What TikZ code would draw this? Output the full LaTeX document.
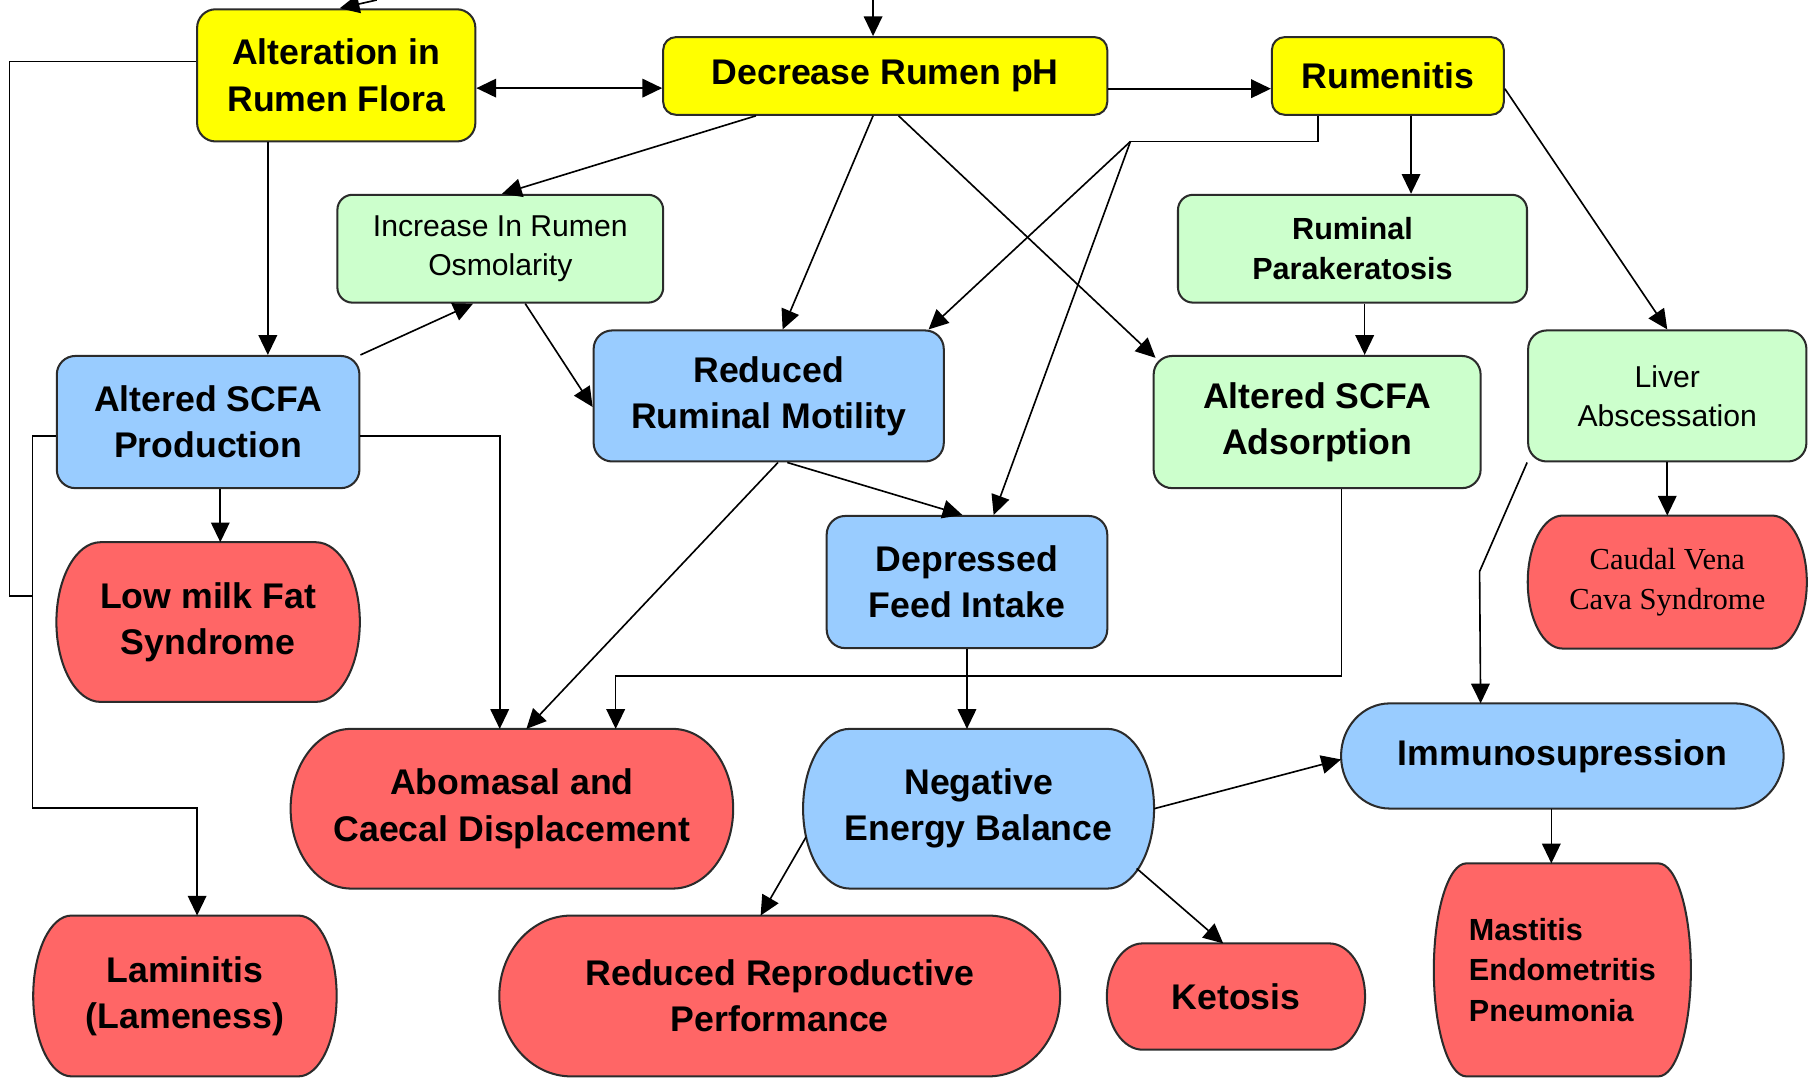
\documentclass[tikz,border=0pt]{standalone}
\usepackage{fontspec}
\setmainfont{Liberation Sans}
\newfontfamily\timesfam{Liberation Serif}
\usetikzlibrary{arrows.meta,calc,backgrounds}

\definecolor{ylwbox}{HTML}{FFFF00}
\definecolor{grnbox}{HTML}{CCFFCC}
\definecolor{blubox}{HTML}{99CCFF}
\definecolor{redbox}{HTML}{FF6666}
\definecolor{edge}{HTML}{2B2B2B}

\newcommand{\bfbig}{\fontsize{17.5}{22.7}\selectfont\bfseries}
\newcommand{\bfsmall}{\fontsize{15}{19.8}\selectfont\bfseries}
\newcommand{\rmsmall}{\fontsize{14.8}{19.3}\selectfont}
\newcommand{\tmsmall}{\timesfam\fontsize{15}{19.3}\selectfont}

% outline with half-ellipse ends, drawn behind a node: name, x radius, colour
\newcommand{\termline}[3]{%
	\path[draw=edge, line width=1pt, fill=#3]
		let \p1=(#1.north west), \p2=(#1.south east), \n1={(\y1-\y2)/2} in
		(\x1+#2,\y1) -- (\x2-#2,\y1)
		arc[start angle=90, end angle=-90, x radius=#2, y radius=\n1]
		-- (\x1+#2,\y2)
		arc[start angle=270, end angle=90, x radius=#2, y radius=\n1]
		-- cycle;}

\tikzset{
	box/.style={draw=edge, line width=1pt, rounded corners=3.2mm, inner sep=0pt, align=center, font=\bfbig},
	ylw/.style={box, fill=ylwbox},
	grn/.style={box, fill=grnbox},
	blu/.style={box, fill=blubox},
	term/.style={inner sep=0pt, align=center, font=\bfbig},
	conn/.style={draw=black, line width=0.8pt},
	arr/.style={conn, -{Triangle[length=3.4mm, width=3.2mm]}},
	arr2/.style={conn, {Triangle[length=3.4mm, width=3.2mm]}-{Triangle[length=3.4mm, width=3.2mm]}}
}

\begin{document}
\begin{tikzpicture}[x=0.2mm, y=-0.2mm]
	\useasboundingbox (0,0) rectangle (1568,933);
	% Top row
	\node[ylw, minimum width=48mm, minimum height=22.8mm] (flora) at (290,65) {Alteration in\\Rumen Flora};
	\node[ylw, rounded corners=2.2mm, minimum width=76.6mm, minimum height=13.4mm] (ph) at (763.5,65.5) {Decrease Rumen pH};
	\node[ylw, rounded corners=2.2mm, minimum width=40mm, minimum height=13.4mm] (rumenitis) at (1197,65.5) {Rumenitis};
	% Second row
	\node[grn, font=\rmsmall, rounded corners=2.6mm, minimum width=56.2mm, minimum height=18.6mm] (osmo) at (431.5,214.5) {Increase In Rumen\\Osmolarity};
	\node[grn, font=\bfsmall, rounded corners=2.6mm, minimum width=60.2mm, minimum height=18.6mm] (parak) at (1166.5,214.5) {Ruminal\\Parakeratosis};
	% Third row
	\node[blu, minimum width=52.2mm, minimum height=22.8mm] (prod) at (179.5,364) {Altered SCFA\\Production};
	\node[blu, minimum width=60.4mm, minimum height=22.6mm] (motil) at (663,341.5) {Reduced\\Ruminal Motility};
	\node[grn, minimum width=56.4mm, minimum height=22.8mm] (adsorp) at (1136,364) {Altered SCFA\\Adsorption};
	\node[grn, font=\rmsmall, minimum width=48mm, minimum height=22.6mm] (liver) at (1438,341.5) {Liver\\Abscessation};
	% Fourth row
	\node[term, minimum width=52.2mm, minimum height=27.4mm] (milkfat) at (179.5,536.5) {Low milk Fat\\Syndrome};
	\node[blu, minimum width=48.4mm, minimum height=22.8mm] (intake) at (834,502) {Depressed\\Feed Intake};
	\node[term, font=\tmsmall, minimum width=48mm, minimum height=22.8mm] (caudal) at (1438,502) {Caudal Vena\\Cava Syndrome};
	% Fifth row
	\node[term, minimum width=76.2mm, minimum height=27.4mm] (aboma) at (441.5,697.5) {Abomasal and\\Caecal Displacement};
	\node[term, minimum width=60.4mm, minimum height=27.4mm] (neb) at (844,697.5) {Negative\\Energy Balance};
	\node[term, minimum width=76.2mm, minimum height=18mm] (immuno) at (1347.5,652) {Immunosupression};
	% Bottom row
	\node[term, minimum width=52.2mm, minimum height=27.6mm] (lamin) at (159.5,859) {Laminitis\\(Lameness)};
	\node[term, minimum width=96.6mm, minimum height=27.6mm] (repro) at (672.5,859) {Reduced Reproductive\\Performance};
	\node[term, minimum width=44.4mm, minimum height=18.2mm] (ketosis) at (1066,859.5) {Ketosis};
	\node[term, font=\bfsmall, align=left, minimum width=44.2mm, minimum height=36.6mm] (mastitis) at (1347.5,836.5) {Mastitis\\Endometritis\\Pneumonia};

	% Rounded outlines
	\begin{scope}[on background layer]
		\foreach \nm/\rx/\col in {milkfat/7.6mm/redbox, caudal/6mm/redbox, aboma/10.4mm/redbox,
			neb/8mm/blubox, immuno/8.4mm/blubox, lamin/6.6mm/redbox, repro/12.4mm/redbox,
			ketosis/6.2mm/redbox, mastitis/5.6mm/redbox}
			{\termline{\nm}{\rx}{\col}}
	\end{scope}

	% Incoming from above
	\coordinate (infl) at (325,0);
	\coordinate (inph) at (753,0);
	\draw[arr] (infl) -- ([xshift=0.6mm]flora.north);
	\draw[arr] (inph) -- (inph |- ph.north);
	% Top row links
	\draw[arr2] ([yshift=-2.2mm]flora.east) -- ([yshift=-2.2mm]flora.east -| ph.west);
	\draw[arr] ([yshift=-2.2mm]ph.east) -- ([yshift=-2.2mm]ph.east -| rumenitis.west);
	\draw[arr] ([xshift=-11.8mm]flora.south) -- ([xshift=-11.8mm]flora.south |- prod.north);
	\draw[arr] ([xshift=-22.3mm]ph.south) -- ([xshift=0.3mm]osmo.north);
	\draw[arr] ([xshift=-2.1mm]ph.south) -- ([xshift=2.4mm]motil.north);
	\draw[arr] ([xshift=2.3mm]ph.south) -- ([xshift=0.5mm, yshift=-0.5mm]adsorp.north west);
	% Rumenitis
	\coordinate (rsplit) at (975,122);
	\draw[conn] ([xshift=-12mm]rumenitis.south) |- (rsplit);
	\draw[arr] (rsplit) -- ([xshift=-2.8mm]motil.north east);
	\draw[arr] (rsplit) -- ([xshift=4.6mm]intake.north);
	\draw[arr] ([xshift=4mm]rumenitis.south) -- ([xshift=4mm]rumenitis.south |- parak.north);
	\draw[arr] ([yshift=-2.2mm]rumenitis.east) -- (liver.north);
	\draw[arr] ([xshift=2.1mm]parak.south) -- ([xshift=2.1mm]parak.south |- adsorp.north);
	% Middle links
	\draw[arr] (prod.north east) -- ([xshift=-4.7mm]osmo.south);
	\draw[arr] ([xshift=4.3mm]osmo.south) -- ([yshift=-1.9mm]motil.west);
	\draw[arr] ([xshift=2.1mm]prod.south) -- ([xshift=2.1mm]prod.south |- milkfat.north);
	\draw[arr] ([yshift=-2.4mm]prod.east) -| ([xshift=-2.1mm]aboma.north);
	\draw[arr] ([xshift=1.6mm]motil.south) -- ([xshift=2.5mm]aboma.north);
	\draw[arr] ([xshift=3.2mm]motil.south) -- ([xshift=-0.8mm]intake.north);
	\draw[arr] ([xshift=4.2mm]adsorp.south) -- ++(0,161) -| ([xshift=17.9mm]aboma.north);
	\draw[arr] (intake.south) -- (intake.south |- neb.north);
	\draw[arr] (liver.south west) -- ++(-41,94) -- ([xshift=-14.1mm]immuno.north);
	\draw[arr] (liver.south) -- (caudal.north);
	% Left loop
	\draw[conn] ([yshift=2.4mm]flora.west) -- ++(-161,0) -- ++(0,461) -- ++(20,0);
	\draw[arr] ([yshift=-2.4mm]prod.west) -- ++(-20,0) -- ++(0,321) -| ([xshift=2.1mm]lamin.north);
	% Lower links
	\draw[arr] (neb.east) -- ([yshift=-0.6mm]immuno.west);
	\draw[arr] ([xshift=0.5mm, yshift=-4.9mm]neb.west) -- ([xshift=-3.3mm]repro.north);
	\draw[arr] ([xshift=-3mm, yshift=-10.3mm]neb.east) -- ([xshift=-2.2mm]ketosis.north);
	\draw[arr] ([xshift=-1.9mm]immuno.south) -- ([xshift=-1.9mm]immuno.south |- mastitis.north);
\end{tikzpicture}
\end{document}
